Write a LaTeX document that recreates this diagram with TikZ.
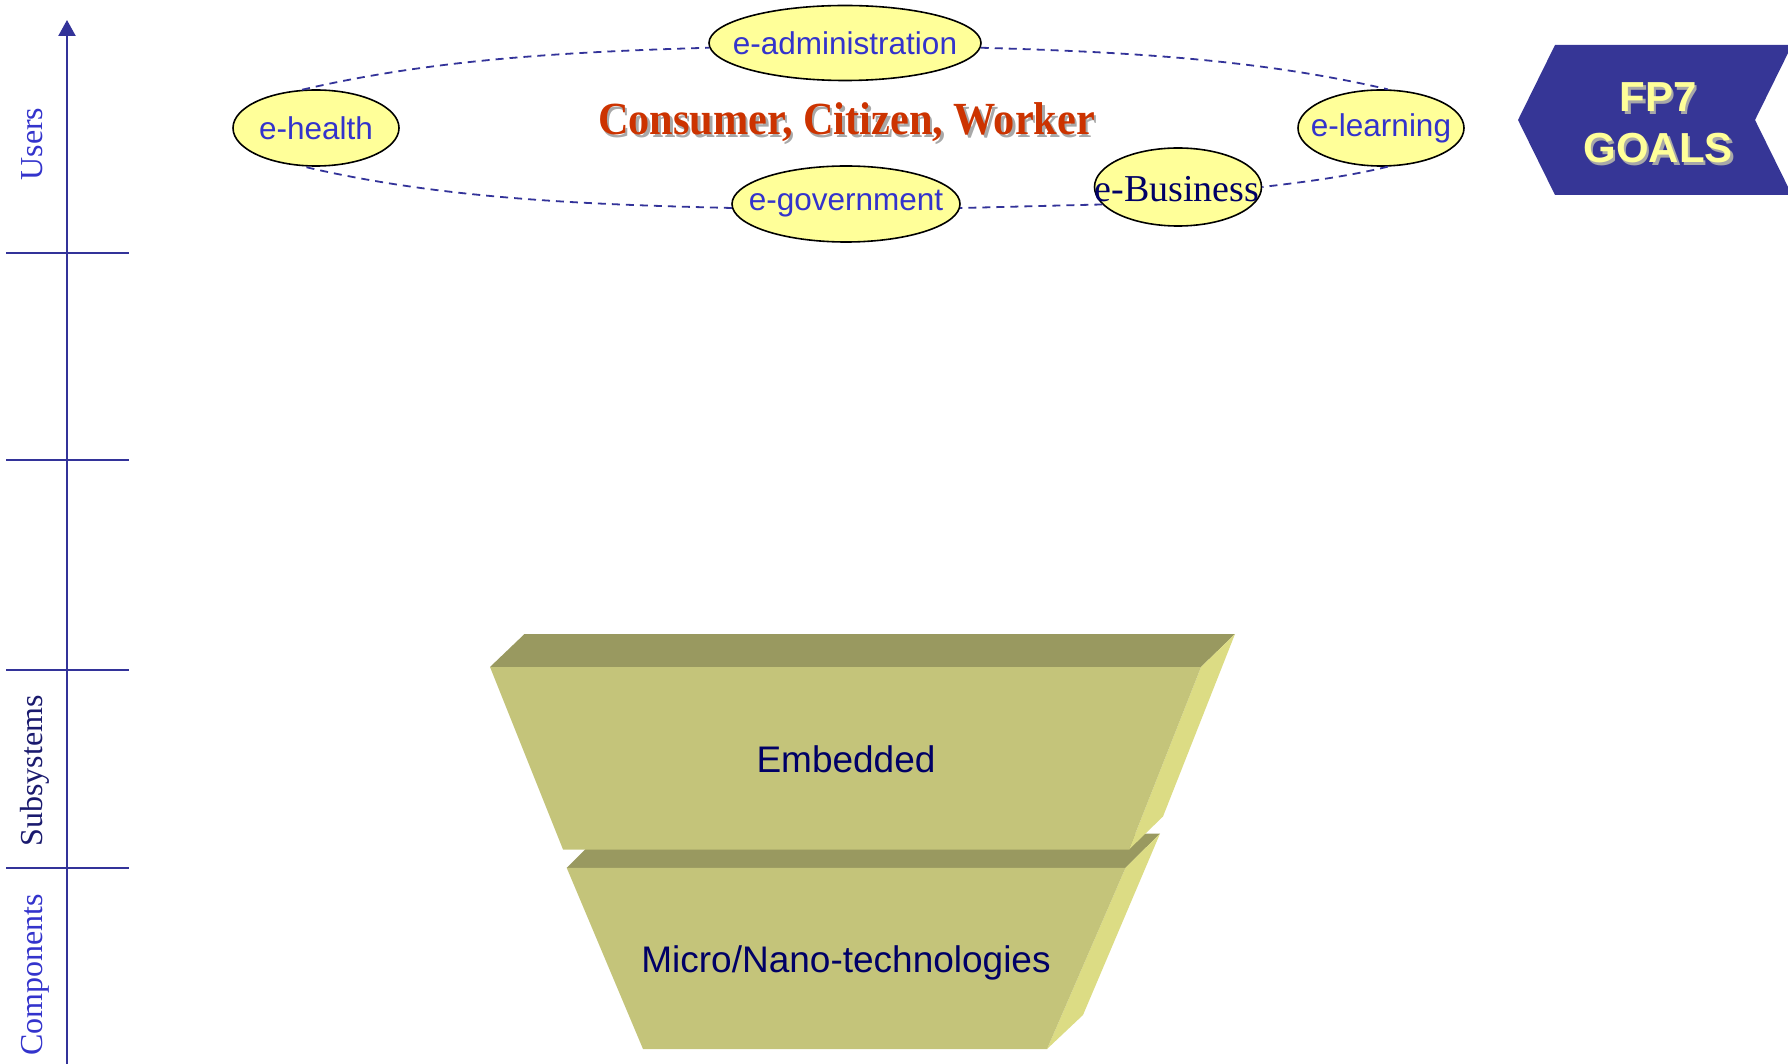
\documentclass[tikz,border=0pt]{standalone}
\usepackage{fontspec}
\setmainfont{Liberation Serif}
\newfontfamily\arialf{Liberation Sans}
\usetikzlibrary{shapes.geometric,arrows.meta}
\definecolor{axisblue}{HTML}{333399}
\definecolor{lblue}{HTML}{3333CC}
\definecolor{navy}{HTML}{000066}
\definecolor{subnavy}{HTML}{1A1A6E}
\definecolor{ellfill}{HTML}{FFFF99}
\definecolor{consred}{HTML}{CC3300}
\definecolor{fpblue}{HTML}{363696}
\definecolor{fpyellow}{HTML}{FFFF99}
\definecolor{shadowgrey}{HTML}{A8A8A8}
\definecolor{blocktop}{HTML}{999960}
\definecolor{blockfront}{HTML}{C4C47A}
\definecolor{blockside}{HTML}{DCDC84}
\begin{document}
\begin{tikzpicture}[x=1pt,y=-1pt,
  axisline/.style={draw=axisblue, line width=2.3pt},
  ell/.style={ellipse, draw=black, line width=1.6pt, fill=ellfill, inner sep=0pt},
  elltext/.style={font=\arialf\fontsize{31.5}{31.5}\selectfont, text=lblue, inner sep=0pt},
  ring/.style={draw=axisblue, line width=1.8pt, dash pattern=on 8pt off 6pt},
  axlabel/.style={rotate=90, anchor=base, inner sep=0pt, font=\fontsize{32}{32}\selectfont},
  blocktext/.style={anchor=base, inner sep=0pt, font=\arialf\fontsize{37}{37}\selectfont, text=navy},
  fptext/.style={anchor=base, inner sep=0pt, font=\arialf\bfseries\fontsize{42}{42}\selectfont},
  constext/.style={anchor=base, inner sep=0pt, font=\bfseries\fontsize{46}{46}\selectfont}
]
\useasboundingbox (0,0) rectangle (1788,1064);

% ---- vertical axis ----
\draw[axisline, -{Triangle[width=17pt,length=16pt]}] (67,1064) -- (67,20);
\draw[axisline] (6,253) -- (129,253);
\draw[axisline] (6,460) -- (129,460);
\draw[axisline] (6,670) -- (129,670);
\draw[axisline] (6,868) -- (129,868);
\node[axlabel, text=lblue] (users) at (42,144) {Users};
\node[axlabel, text=subnavy] (subs) at (42,771) {Subsystems};
\node[axlabel, text=lblue] (comps) at (42,975) {Components};

% ---- ellipses ----
\node[ell, minimum width=272pt, minimum height=75pt] (ea) at (845,43) {};
\node[elltext] (tea) at (ea) {e-administration};
\node[ell, minimum width=166pt, minimum height=76pt] (eh) at (316,128) {};
\node[elltext] (teh) at (eh) {e-health};
\node[ell, minimum width=166pt, minimum height=76pt] (el) at (1381,128) {};
\node[elltext] (tel) at (el) {e-learning};
\node[ell, minimum width=228pt, minimum height=76pt] (eg) at (846,204) {};
\node[elltext] (teg) at (eg) {e-government};
\node[ell, minimum width=167pt, minimum height=78pt] (eb) at (1178,187) {};
\node[anchor=base, inner sep=0pt, font=\fontsize{38}{38}\selectfont, text=navy] (teb) at (1177,202) {e-Business};

% ---- dashed ring ----
\draw[ring] (eh.110) .. controls +(133,-31) and +(-137,4) .. (ea.182);
\draw[ring] (ea.358) .. controls +(137,4) and +(-133,-31) .. (el.80);
\draw[ring] (el.280) .. controls +(-41,10) and +(42,-5) .. (eb.east);
\draw[ring] (eb.193) .. controls +(-45,1) and +(45,-1) .. (eg.358);
\draw[ring] (eg.182) .. controls +(-144,-3.5) and +(140,33) .. (eh.250);

% ---- Consumer, Citizen, Worker ----
\node[constext, text=shadowgrey] (consshadow) at (849,137.5) {\scalebox{0.92}[1]{Consumer, Citizen, Worker}};
\node[constext, text=consred] (cons) at (846.5,135) {\scalebox{0.92}[1]{Consumer, Citizen, Worker}};

% ---- FP7 GOALS banner ----
\fill[fpblue] (1518,120) -- (1555,45) -- (1792,45) -- (1755,120) -- (1792,195) -- (1555,195) -- cycle;
\node[fptext, text=shadowgrey] (fpshadow) at (1660.5,114.5) {FP7};
\node[fptext, text=fpyellow] (fp) at (1658,112) {FP7};
\node[fptext, text=shadowgrey] (goalsshadow) at (1660.5,165.5) {GOALS};
\node[fptext, text=fpyellow] (goals) at (1658,163) {GOALS};

% ---- lower block ----
\fill[blocktop] (566.7,867.8) -- (601,833.6) -- (1160,833.6) -- (1125.5,867.8) -- cycle;
\fill[blockside] (1125.5,867.8) -- (1160,833.6) -- (1083,1015) -- (1047,1049) -- cycle;
\fill[blockfront] (566.7,867.8) -- (1125.5,867.8) -- (1047,1049) -- (643,1049) -- cycle;
% ---- upper block ----
\fill[blocktop] (490,667) -- (524.5,634) -- (1235,634) -- (1201,667) -- cycle;
\fill[blockside] (1201,667) -- (1235,634) -- (1163,816.5) -- (1129,849.5) -- cycle;
\fill[blockfront] (490,667) -- (1201,667) -- (1129,849.5) -- (563,849.5) -- cycle;

\node[blocktext] (emb) at (846,772) {Embedded};
\node[blocktext] (micro) at (846,972) {Micro/Nano-technologies};
\end{tikzpicture}
\end{document}
